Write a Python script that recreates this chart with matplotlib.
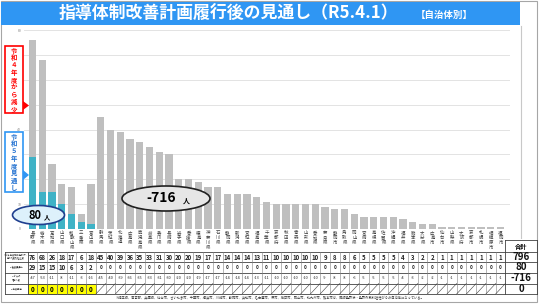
import matplotlib
matplotlib.use("Agg")
import matplotlib.pyplot as plt
from matplotlib.patches import Rectangle, Ellipse, Polygon
import numpy as np

plt.rcParams['font.family'] = ['Noto Sans CJK JP', 'DejaVu Sans']

categories = ["長野県", "栃木県", "高知県", "山口県", "和歌山県", "三重県", "富山県",
              "群馬県", "茨城県", "北海道", "広島県", "鹿児島県", "岐阜県", "香川県",
              "長崎県", "岩手県", "愛媛県", "徳島県", "神奈川県", "石川県", "静岡県",
              "新潟県", "宮城県", "福島県", "千葉県", "京都府", "秋田県", "青森県",
              "山形県", "愛知県", "奈良県", "静岡市", "鳥取県", "岡山県", "宮崎県",
              "島根県", "佐賀県", "沖縄県", "福井県", "熊本県", "大分県", "広島市",
              "仙台市", "山梨県", "大阪府", "京都市", "札幌市", "相模原市", "福岡市"]
r4_values = [76, 68, 26, 18, 17, 6, 18, 45, 40, 39, 36, 35, 33, 31, 30, 20, 20,
             19, 17, 17, 14, 14, 14, 13, 11, 10, 10, 10, 10, 10, 9, 8, 8, 6, 5,
             5, 5, 5, 4, 3, 2, 2, 1, 1, 1, 1, 1, 1, 1]
r5_values = [29, 15, 15, 10, 6, 3, 2] + [0] * 42
yticks = [0, 10, 20, 30, 40, 50, 60, 70, 80]
title = "指導体制改善計画履行後の見通し（R5.4.1）"
subtitle = "【自治体別】"
row_labels = ["令和４年度臨時免許状・\n免許外教科担任数\n（R4.5.1）",
              "R5年度見通し\n（R5.4.1）",
              "R4からの\n増減人数",
              "R6年度予定"]
footnote = ("※埼玉県、東京都、兵庫県、仙台市、さいたま市、千葉市、横浜市、川崎市、静岡市、浜松市、"
            "名古屋市、堺市、神戸市、岡山市、北九州市、熊本市は、臨時免許状・免許外教科担任が０の自治体になっている。")

W, H = 539, 304
fig = plt.figure(figsize=(W / 100, H / 100), dpi=100)
fig.patch.set_facecolor("white")

# background overlay (pixel coordinates)
ov = fig.add_axes([0, 0, 1, 1], zorder=0)
ov.set_xlim(0, W)
ov.set_ylim(H, 0)
ov.axis("off")

# foreground overlay for callouts
top = fig.add_axes([0, 0, 1, 1], zorder=5)
top.set_xlim(0, W)
top.set_ylim(H, 0)
top.axis("off")
top.patch.set_alpha(0)

# frame and title band
ov.add_patch(Rectangle((1, 1), 536, 301, fill=False, ec="#A6A6A6", lw=0.8))
ov.plot([521, 521], [26, 238], color="#C8C8C8", lw=0.8)
ov.add_patch(Rectangle((1, 2), 519, 23, fc="#2F96F3", ec="none"))
ov.text(228, 14, title, color="white", fontsize=12.2, fontweight="bold",
        ha="center", va="center")
ov.text(444, 14.5, subtitle, color="white", fontsize=6.8, fontweight="bold",
        ha="center", va="center")

# bar chart axes
n = len(r4_values)
x0, dx = 32.5, 9.75
ax_left, ax_right = 24, 510
ybase, ytop = 229, 30
ax = fig.add_axes([ax_left / W, (H - ybase) / H, (ax_right - ax_left) / W,
                   (ybase - ytop) / H], zorder=1)
ax.set_facecolor("none")
ax.set_xlim(-(x0 - ax_left) / dx, (ax_right - x0) / dx)
ax.set_ylim(0, 80)
xs = np.arange(n)
ax.bar(xs, r4_values, width=0.72, color="#BFBFBF", zorder=2)
ax.bar(xs, r5_values, width=0.72, color="#3FB2C6", zorder=3)
ax.set_yticks(yticks)
ax.set_yticklabels([str(v) for v in yticks], fontsize=2.5, color="#7F7F7F")
ax.tick_params(axis="y", length=0, pad=2)
ax.set_xticks([])
ax.grid(axis="y", color="#E3E3E3", lw=0.7, zorder=0)
for s in ax.spines.values():
    s.set_visible(False)

# category labels (vertical)
for i, c in enumerate(categories):
    cx = x0 + dx * i
    ov.text(cx, 230.5, "\n".join(c), fontsize=3.2, color="#404040",
            ha="center", va="top", linespacing=0.95)

# annotation boxes
top.add_patch(Rectangle((5, 46), 18, 67, fc="white", ec="#FF0000", lw=1.2))
top.text(14, 79.5, "\n".join("令和４年度から減少"), color="#FF0000", fontsize=4.6,
         fontweight="bold", ha="center", va="center", linespacing=1.05)
top.add_patch(Polygon([[23, 101], [23, 110], [29, 105.5]], closed=True, fc="#FF0000",
                      ec="none"))
top.add_patch(Rectangle((5, 132), 18, 60, fc="white", ec="#2F96F3", lw=1.2))
top.text(14, 162, "\n".join("令和５年度見通し"), color="#1F6FD0", fontsize=4.6,
         fontweight="bold", ha="center", va="center", linespacing=1.05)
top.add_patch(Polygon([[23, 170], [23, 180], [29, 175]], closed=True, fc="#2F96F3",
                      ec="none"))

# ellipses
top.add_patch(Ellipse((38.5, 215), 52, 19, fc="#DDF1FB", ec="#1F3F8F", lw=1.2))
top.text(35, 215.5, "80", fontsize=8, fontweight="bold", color="black",
         ha="center", va="center")
top.text(47, 217, "人", fontsize=4.5, fontweight="bold", color="black",
         ha="center", va="center")
top.add_patch(Ellipse((166, 198.5), 88, 25, fc="#E6E6E6", ec="#202020", lw=1.2))
top.text(161, 198.5, "-716", fontsize=10, fontweight="bold", color="black",
         ha="center", va="center")
top.text(186, 201, "人", fontsize=5, fontweight="bold", color="black",
         ha="center", va="center")

# table
rows_y = [252, 262, 273, 283.5, 294]
left_edge = 5
first_edge = x0 - dx / 2
last_edge = x0 + dx * (n - 1) + dx / 2
tot_right = 537
lc = "#404040"
for k, yy in enumerate(rows_y):
    ov.plot([left_edge, tot_right], [yy, yy], color=lc, lw=0.6)
ov.plot([left_edge, left_edge], [rows_y[0], rows_y[-1]], color=lc, lw=0.6)
ov.plot([tot_right, tot_right], [240, rows_y[-1]], color=lc, lw=0.6)
ov.plot([last_edge, tot_right], [240, 240], color=lc, lw=0.6)
ov.plot([last_edge, last_edge], [240, rows_y[-1]], color=lc, lw=0.6)
ov.plot([first_edge, first_edge], [rows_y[0], rows_y[-1]], color=lc, lw=0.6)
for i in range(1, n):
    xe = first_edge + dx * i
    ov.plot([xe, xe], [rows_y[0], rows_y[-1]], color="#808080", lw=0.4)
ov.text((last_edge + tot_right) / 2, 246, "合計", fontsize=4.5, fontweight="bold",
        ha="center", va="center")

for r, lab in enumerate(row_labels):
    ov.text((left_edge + first_edge) / 2, (rows_y[r] + rows_y[r + 1]) / 2, lab,
            fontsize=1.6, ha="center", va="center", linespacing=1.0, color="#333333")

for i in range(n):
    cx = x0 + dx * i
    ov.text(cx, 257, str(r4_values[i]), fontsize=4.3, fontweight="bold",
            ha="center", va="center", color="#222222")
    ov.text(cx, 267.5, str(r5_values[i]), fontsize=4.3 if r5_values[i] else 3.3,
            fontweight="bold", ha="center", va="center", color="#222222")
    ov.text(cx, 278.2, str(r5_values[i] - r4_values[i]), fontsize=2.8,
            ha="center", va="center", color="#222222")
    if r5_values[i] > 0:
        ov.add_patch(Rectangle((cx - dx / 2, rows_y[3]), dx, rows_y[4] - rows_y[3],
                               fc="#FFFF00", ec="#404040", lw=0.4, zorder=1))
        ov.text(cx, 289, "0", fontsize=4.5, fontweight="bold", ha="center",
                va="center", zorder=2)
    else:
        ov.plot([cx - dx / 2, cx + dx / 2], [rows_y[4], rows_y[3]], color="#404040",
                lw=0.4)

tot = sum(r4_values)
tot5 = sum(r5_values)
tcx = (last_edge + tot_right) / 2
for yy, v in zip([257, 267.5, 278.2, 289], [tot, tot5, tot5 - tot, 0]):
    ov.text(tcx, yy, str(v), fontsize=7, fontweight="bold", ha="center",
            va="center", color="#111111")

ov.text(270, 298.5, footnote, fontsize=2.3, ha="center", va="center",
        color="#333333")

fig.savefig("out.png", dpi=100)
